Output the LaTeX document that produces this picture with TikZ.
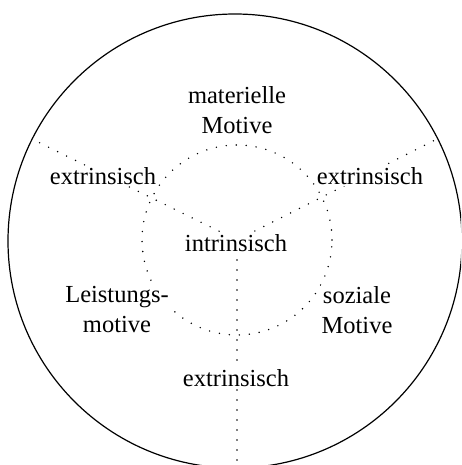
\documentclass[tikz,border=0pt]{standalone}
\usepackage{fontspec}
\setmainfont{Liberation Serif}
\usepackage{tikz}

\begin{document}
\begin{tikzpicture}[x=1pt,y=-1pt,
  dots/.style={line width=1.6pt,line cap=round,dash pattern=on 0pt off 10pt},
  lbl/.style={fill=white,inner sep=1pt,align=center,font=\fontsize{24.5}{30}\selectfont}]
\useasboundingbox (0,0) rectangle (461,465);
\clip (0,0) rectangle (461,465);
\draw[line width=1.2pt] (235,241) circle[radius=227pt];
\coordinate (c) at (237,240);
\coordinate (ul) at (36,141);
\coordinate (ur) at (437,139);
\coordinate (bot) at (237,468);
\draw[dots] (c) circle[radius=95pt];
\draw[dots] (c) -- (ul);
\draw[dots] (c) -- (ur);
\draw[dots] (c) -- (bot);
\node[lbl] (mat) at (237,110) {materielle\\Motive};
\node[lbl] (extl) at (103,176) {extrinsisch};
\node[lbl] (extr) at (370,176) {extrinsisch};
\node[lbl] (intr) at (236,243) {intrinsisch};
\node[lbl] (leist) at (117,310) {Leistungs-\\motive};
\node[lbl] (soz) at (357,310) {soziale\\Motive};
\node[lbl] (extb) at (236,378) {extrinsisch};
\end{tikzpicture}
\end{document}
